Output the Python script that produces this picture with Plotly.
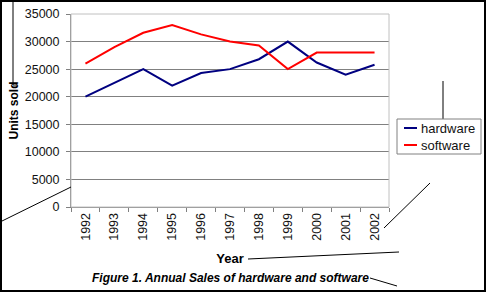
import plotly.graph_objects as go

years = ['1992', '1993', '1994', '1995', '1996', '1997', '1998', '1999', '2000', '2001', '2002']
hardware = [20000, 22500, 25000, 22000, 24300, 25000, 26800, 30000, 26200, 24000, 25800]
software = [26000, 29000, 31600, 33000, 31300, 30000, 29300, 25000, 28000, 28000, 28000]
series = [('hardware', hardware, '#000080'), ('software', software, '#ff0000')]

W, H = 487, 292
L, R, T, B = 71, 98, 14, 85
FONT = 'Liberation Sans, Arial, sans-serif'


# converts picture pixels to paper coordinates of the plot area
def px(x, y):
    return (x - L) / (W - L - R), (H - B - y) / (H - T - B)


def leader(x0, y0, x1, y1, color='black', width=1):
    a, b = px(x0, y0)
    c, d = px(x1, y1)
    return dict(type='line', xref='paper', yref='paper', x0=a, y0=b, x1=c, y1=d,
                line=dict(color=color, width=width), layer='above')


fig = go.Figure()
for name, values, color in series:
    fig.add_trace(go.Scatter(x=years, y=values, mode='lines', name=name,
                             line=dict(color=color, width=2), showlegend=False))

shapes = [
    # plot area border (light grey top/right)
    dict(type='rect', xref='paper', yref='paper', x0=0, y0=0, x1=1, y1=1,
         line=dict(color='#c0c0c0', width=1), layer='above'),
    # leader lines
    leader(13, 1, 13, 85),
    leader(13, 85, 17, 85),
    leader(0, 222, 71, 187),
    leader(443, 81, 443, 119),
    leader(384, 228, 430, 183),
    leader(248, 259, 399, 252),
    leader(370, 278, 397, 286),
]
# outer frame
a, b = px(1, 1)
c, d = px(485, 291)
shapes.append(dict(type='rect', xref='paper', yref='paper', x0=a, y0=d, x1=c, y1=b,
                   line=dict(color='black', width=2), layer='above'))

# legend box drawn by hand, Excel style (short line samples)
a, b = px(397, 119)
c, d = px(481, 154)
shapes.append(dict(type='rect', xref='paper', yref='paper', x0=a, y0=d, x1=c, y1=b,
                   line=dict(color='#808080', width=1), fillcolor='white', layer='above'))
annotations = []
for i, (name, values, color) in enumerate(series):
    yy = 128 + i * 17
    shapes.append(leader(404, yy, 417, yy, color=color, width=2))
    tx, ty = px(419, yy)
    annotations.append(dict(text=name, xref='paper', yref='paper', x=tx, y=ty,
                            showarrow=False, xanchor='left', yanchor='middle',
                            font=dict(size=13, color='#111')))

cx, cy = px(230, 278)
annotations.append(dict(text='<b><i>Figure 1. Annual Sales of hardware and software</i></b>',
                        xref='paper', yref='paper', x=cx, y=cy, showarrow=False,
                        xanchor='center', yanchor='middle',
                        font=dict(size=12, color='black')))

fig.update_layout(
    width=W, height=H, autosize=False,
    margin=dict(l=L, r=R, t=T, b=B),
    paper_bgcolor='white', plot_bgcolor='white',
    font=dict(family=FONT, size=12.5, color='#111'),
    shapes=shapes,
    annotations=annotations,
    showlegend=False,
    xaxis=dict(type='category', range=[-0.5, 10.5], tickson='boundaries', ticks='outside', ticklen=4,
               tickcolor='#808080', showline=True, linecolor='#808080', linewidth=1,
               showgrid=False, tickangle=-90, automargin=False,
               title=dict(text='<b>Year</b>', font=dict(size=13, color='black'), standoff=14)),
    yaxis=dict(range=[0, 35000], dtick=5000, tickformat='d', ticks='outside', ticklen=4,
               tickcolor='#808080', showline=True, linecolor='#808080', linewidth=1,
               showgrid=True, gridcolor='#808080', gridwidth=1, zeroline=False, automargin=False,
               ticklabelstandoff=4,
               title=dict(text='<b>Units sold</b>', font=dict(size=12, color='black'), standoff=3)),
)

fig.write_html('out.html', config={'displayModeBar': False},
               post_script="document.body.style.margin='0px';")
